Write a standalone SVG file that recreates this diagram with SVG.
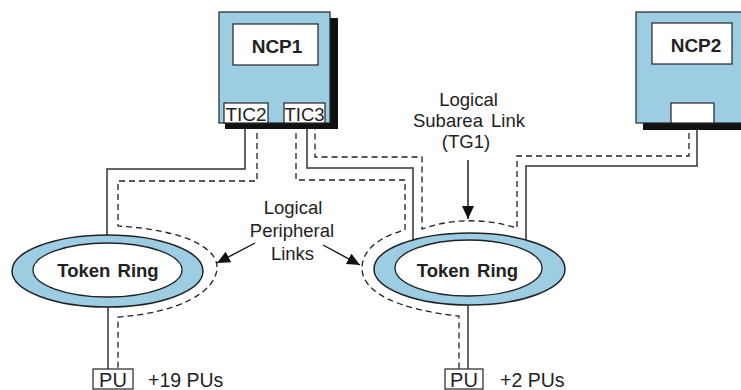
<svg xmlns="http://www.w3.org/2000/svg" width="741" height="390" viewBox="0 0 741 390">
<defs>
<style>
.bg{fill:#ffffff}
.box{fill:#9ccde2;stroke:#222;stroke-width:1.2}
.shadow{fill:#111}
.wbox{fill:#fff;stroke:#222;stroke-width:1.2}
.ring{fill:#9ccde2;stroke:#222;stroke-width:1.5}
.inner{fill:#fff;stroke:#222;stroke-width:1.3}
.solid{fill:none;stroke:#333;stroke-width:1.5}
.dash{fill:none;stroke:#222;stroke-width:1.3;stroke-dasharray:6 4}
.arr{fill:none;stroke:#111;stroke-width:1.4}
.t{font-family:"Liberation Sans",Arial,sans-serif;fill:#222}
.b{font-weight:bold}
.tr{font-weight:bold;font-size:18.5px;word-spacing:2px}
</style>
<marker id="ah" markerUnits="userSpaceOnUse" markerWidth="14" markerHeight="12" refX="13" refY="6" orient="auto">
<path d="M0,0 L13,6 L0,12 Z" fill="#111"/>
</marker>
</defs>
<rect class="bg" x="0" y="0" width="741" height="390"/>
<g id="connectors">
<path class="solid" d="M245,123 V169 H107 V242"/>
<path class="solid" d="M108,300 V369"/>
<path class="solid" d="M307,123 V168 H413 V245"/>
<path class="solid" d="M697,123 V166 H526 V245"/>
<path class="solid" d="M468,298 V369"/>
<path class="dash" d="M257,123 V181 H118 V226 C185,230 217,248 217,267 C217,292 178,313 118,317 V369"/>
<path class="dash" d="M296,123 V180 H405 V230 C378,237 362,251 362,268 C362,293 400,310 459,316 V369"/>
<path class="dash" d="M689,123 V156 H517 V228 Q468,213 422,229 V157 H315 V123"/>
<line class="arr" x1="255" y1="243" x2="217" y2="263" marker-end="url(#ah)"/>
<line class="arr" x1="323" y1="245" x2="360" y2="265" marker-end="url(#ah)"/>
<line class="arr" x1="468" y1="160" x2="468" y2="219" marker-end="url(#ah)"/>
</g>
<g id="ncp1">
<rect class="shadow" x="225" y="18" width="113" height="111"/>
<rect class="box" x="219" y="12" width="111" height="111"/>
<rect class="wbox" x="233" y="24" width="85" height="41"/>
<text class="t b" x="277" y="53" font-size="19" text-anchor="middle">NCP1</text>
<g id="tic2">
<rect class="wbox" x="224" y="103" width="44" height="20"/>
<text class="t" x="246" y="121" font-size="19" text-anchor="middle">TIC2</text>
</g>
<g id="tic3">
<rect class="wbox" x="284" y="103" width="41" height="20"/>
<text class="t" x="304.5" y="121" font-size="18.5" text-anchor="middle">TIC3</text>
</g>
</g>
<g id="ncp2">
<rect class="shadow" x="643" y="18" width="110" height="112"/>
<rect class="box" x="636" y="12" width="110" height="111"/>
<rect class="wbox" x="652" y="23" width="80" height="41"/>
<text class="t b" x="696" y="52" font-size="19" text-anchor="middle">NCP2</text>
<rect class="wbox" x="671" y="103" width="43" height="20"/>
</g>
<g id="ring1">
<ellipse class="ring" cx="107.5" cy="271" rx="95.5" ry="36"/>
<ellipse class="inner" cx="107.5" cy="270" rx="74.5" ry="27"/>
<text class="t tr" x="108" y="277" text-anchor="middle">Token Ring</text>
</g>
<g id="ring2">
<ellipse class="ring" cx="469.5" cy="269" rx="95.5" ry="36"/>
<ellipse class="inner" cx="468.5" cy="268" rx="73.5" ry="28"/>
<text class="t tr" x="467.5" y="277" text-anchor="middle">Token Ring</text>
</g>
<g id="pu1">
<rect class="wbox" x="93" y="369" width="40" height="20"/>
<text class="t" x="113" y="387" font-size="20" text-anchor="middle">PU</text>
<text class="t" x="148" y="387" font-size="19.5">+19 PUs</text>
</g>
<g id="pu2">
<rect class="wbox" x="445" y="369" width="38" height="20"/>
<text class="t" x="464" y="387" font-size="20" text-anchor="middle">PU</text>
<text class="t" x="500" y="387" font-size="19.5">+2 PUs</text>
</g>
<g id="label-peripheral">
<text class="t" x="293" y="214" font-size="18.5" text-anchor="middle">Logical</text>
<text class="t" x="292" y="237" font-size="18.5" text-anchor="middle">Peripheral</text>
<text class="t" x="292.5" y="260" font-size="18.5" text-anchor="middle">Links</text>
</g>
<g id="label-subarea">
<text class="t" x="468.5" y="106" font-size="18.5" text-anchor="middle">Logical</text>
<text class="t" x="469" y="127" font-size="18.5" text-anchor="middle" word-spacing="3">Subarea Link</text>
<text class="t" x="466" y="148" font-size="18.5" text-anchor="middle">(TG1)</text>
</g>
</svg>
